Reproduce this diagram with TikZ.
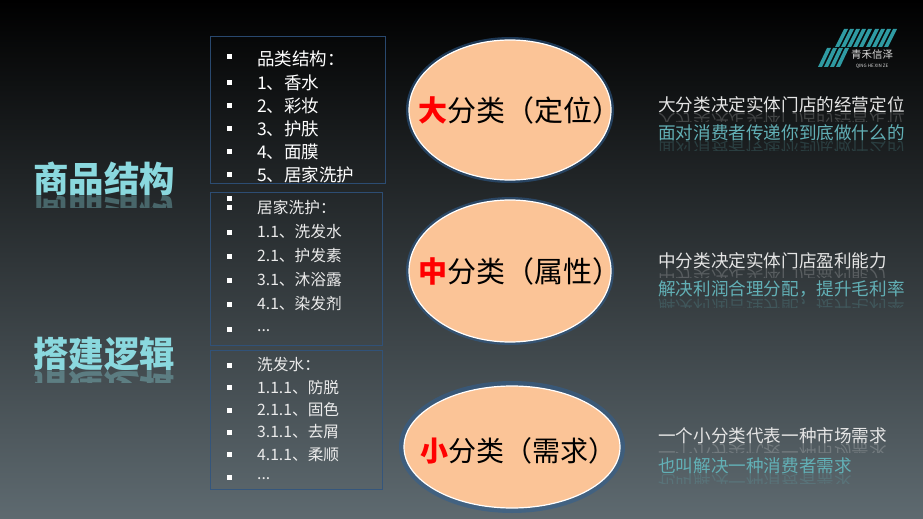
\documentclass[tikz,border=0pt]{standalone}
\usepackage{fontspec}
\setmainfont{Noto Sans CJK SC}
\usetikzlibrary{shapes.geometric}
\definecolor{bgtop}{HTML}{000000}
\definecolor{bgbottom}{HTML}{5E6A70}
\definecolor{titlecyan}{HTML}{8AD8DE}
\definecolor{linecyan}{HTML}{62B0B6}
\definecolor{logoteal}{HTML}{2F9BA3}
\definecolor{ovalfill}{HTML}{FBC497}
\definecolor{ovalglow}{HTML}{2F5F93}
\definecolor{boxline}{HTML}{2F5480}
\tikzset{
  listbox/.style={draw=boxline, draw opacity=0.85, line width=0.8pt, fill=none},
  oval/.style={ellipse, draw=white, fill=ovalfill, line width=1.2pt, inner sep=0pt},
  glow/.style={ellipse, draw=ovalglow, line width=#1, inner sep=0pt, draw opacity=0.55},
  ovaltext/.style={inner sep=0pt, text=black, font=\fontsize{#1}{#1}\selectfont},
  tick/.style={fill=white, inner sep=0pt, minimum size=5pt},
  item/.style={anchor=west, inner sep=0pt, text=white},
  bigitem/.style={item, font=\fontsize{17.5}{18}\selectfont},
  smallitem/.style={item, text=white!92!black, font=\fontsize{15.7}{16}\selectfont},
  title/.style={anchor=south west, inner sep=0pt, text=titlecyan, font=\fontsize{35.5}{36}\selectfont\bfseries},
  whiteline/.style={anchor=south west, inner sep=0pt, text=white!90!black, font=\fontsize{17.6}{18}\selectfont},
  cyanline/.style={anchor=south west, inner sep=0pt, text=linecyan, font=\fontsize{17.6}{18}\selectfont}
}
\newcommand{\mirrored}[8]{%
  \node[#5] (#1) at (#2,#3) {#8};
  \begin{scope}[shift={(0,#3)}, yscale=-1]
    \clip (#2,0) rectangle ++(#6,-#4);
    \node[#5, transform shape, opacity=#7] (#1m) at (#2,0) {#8};
  \end{scope}
}
\begin{document}
\begin{tikzpicture}[x=1pt, y=-1pt]
  \useasboundingbox (0,0) rectangle (923,519);
  \shade[top color=bgtop, bottom color=bgbottom] (0,0) rectangle (923,519);

  \node[listbox, minimum width=175pt, minimum height=147pt, anchor=north west] (box1) at (210,36) {};
  \node[listbox, minimum width=172pt, minimum height=153pt, anchor=north west] (box2) at (210,192) {};
  \node[listbox, minimum width=172pt, minimum height=139pt, anchor=north west] (box3) at (210,350) {};

  \foreach \y in {57,82,105,128,151,174,198} \node[tick] (a\y) at (229,\y) {};
  \foreach \y in {207,232,256,280,304,329} \node[tick] (b\y) at (229,\y) {};
  \foreach \y in {365,387,410,432,454,477} \node[tick] (c\y) at (229,\y) {};

  \node[bigitem] (a1) at (257,59) {品类结构：};
  \node[bigitem] (a2) at (257,83) {1、香水};
  \node[bigitem] (a3) at (257,106) {2、彩妆};
  \node[bigitem] (a4) at (257,129) {3、护肤};
  \node[bigitem] (a5) at (257,152) {4、面膜};
  \node[bigitem] (a6) at (257,175) {5、居家洗护};

  \node[smallitem] (b1) at (257,207) {居家洗护：};
  \node[smallitem] (b2) at (257,232) {1.1、洗发水};
  \node[smallitem] (b3) at (257,256) {2.1、护发素};
  \node[smallitem] (b4) at (257,280) {3.1、沐浴露};
  \node[smallitem] (b5) at (257,304) {4.1、染发剂};
  \node[smallitem] (b6) at (257,331) {...};

  \node[smallitem] (c1) at (257,365) {洗发水：};
  \node[smallitem] (c2) at (257,388) {1.1.1、防脱};
  \node[smallitem] (c3) at (257,410) {2.1.1、固色};
  \node[smallitem] (c4) at (257,432) {3.1.1、去屑};
  \node[smallitem] (c5) at (257,455) {4.1.1、柔顺};
  \node[smallitem] (c6) at (257,479) {...};

  \node[glow=3pt, minimum width=205pt, minimum height=143pt] (bigglow) at (510,110) {};
  \node[oval, minimum width=202pt, minimum height=140pt] (big) at (510,110) {};
  \node[ovaltext=29] (bigtext) at (520,110) {{\color{red}\bfseries 大}分类（定位）};
  \node[glow=3pt, minimum width=205pt, minimum height=145pt] (midglow) at (510,271) {};
  \node[oval, minimum width=202pt, minimum height=142pt] (mid) at (510,271) {};
  \node[ovaltext=29] (midtext) at (520,271) {{\color{red}\bfseries 中}分类（属性）};
  \node[glow=5pt, minimum width=221pt, minimum height=127pt] (smallglow) at (512,447) {};
  \node[oval, minimum width=216pt, minimum height=122pt] (small) at (512,447) {};
  \node[ovaltext=28] (smalltext) at (518,451) {{\color{red}\bfseries 小}分类（需求）};

  \mirrored{goods}{33}{196}{11}{title}{143}{0.35}{商品结构}
  \mirrored{build}{33}{371}{11}{title}{143}{0.35}{搭建逻辑}

  \mirrored{r1}{658}{113}{8}{whiteline}{250}{0.22}{大分类决定实体门店的经营定位}
  \mirrored{r2}{658}{141}{9}{cyanline}{250}{0.22}{面对消费者传递你到底做什么的}
  \mirrored{r3}{658}{269}{8}{whiteline}{250}{0.22}{中分类决定实体门店盈利能力}
  \mirrored{r4}{658}{298}{9}{cyanline}{250}{0.22}{解决利润合理分配，提升毛利率}
  \mirrored{r5}{658}{444}{8}{whiteline}{250}{0.22}{一个小分类代表一种市场需求}
  \mirrored{r6}{658}{474}{9}{cyanline}{250}{0.22}{也叫解决一种消费者需求}

  \foreach \x in {0,6,...,24} \fill[logoteal] (\x+835,47) -- (\x+839,47) -- (\x+848,29) -- (\x+844,29) -- cycle;
  \foreach \x in {0,6,...,18} \fill[logoteal] (\x+818,67) -- (\x+822,67) -- (\x+831,48) -- (\x+827,48) -- cycle;
  \foreach \x in {0,6,...,18} \fill[logoteal] (\x+866,47) -- (\x+870,47) -- (\x+879,29) -- (\x+875,29) -- cycle;
  \node[inner sep=0pt, text=white!85!black, font=\fontsize{10.5}{11}\selectfont] (logoname) at (872,55) {青禾信泽};
  \node[inner sep=0pt, text=white!85!black, font=\fontsize{4.5}{5}\selectfont] (logosub) at (872,66) {QING HE XIN ZE};
\end{tikzpicture}
\end{document}
